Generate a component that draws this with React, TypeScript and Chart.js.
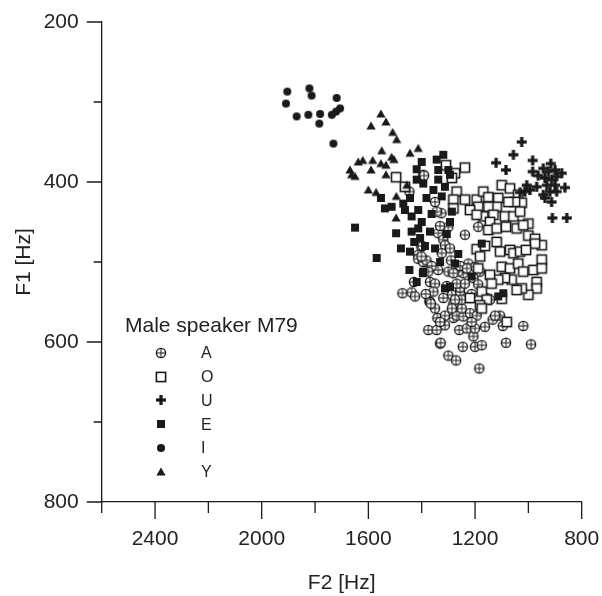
import { useEffect, useRef } from 'react';
import { Chart, registerables } from 'chart.js';

Chart.register(...registerables);

// ---- data: [F2, F1] in Hz ----
const vowelA: number[][] = [
  [1472, 539], [1438, 538], [1425, 543], [1429, 525], [1401, 481], [1413, 491], [1413, 496], [1394, 500],
  [1446, 412], [1394, 391], [1391, 392], [1350, 425], [1326, 439], [1344, 437],
  [1397, 480], [1382, 498], [1401, 493], [1338, 464], [1319, 472], [1313, 479], [1294, 483], [1325, 489],
  [1338, 510], [1300, 512], [1369, 525], [1350, 527], [1356, 537], [1371, 549], [1350, 558], [1341, 570],
  [1375, 585], [1344, 585], [1313, 579], [1331, 602], [1300, 617], [1271, 623], [1246, 606], [1259, 585],
  [1231, 583], [1206, 593], [1200, 606], [1175, 604], [1184, 633], [1084, 601], [990, 603], [1019, 580],
  [1096, 580], [1163, 581], [1134, 572], [1106, 567], [1200, 583], [1281, 570], [1269, 567], [1244, 568],
  [1219, 564], [1194, 567], [1213, 575], [1250, 558], [1281, 552], [1287, 541], [1256, 537], [1221, 545],
  [1256, 532], [1225, 502], [1244, 514], [1262, 512], [1281, 514], [1200, 506], [1181, 512], [1156, 545],
  [1144, 547], [1125, 567], [1238, 466], [1188, 456], [1300, 456], [1331, 455], [1369, 550], [1329, 601],
  [1256, 505], [1231, 508], [1206, 520], [1269, 527], [1238, 527], [1250, 547], [1275, 547], [1287, 558],
  [1313, 567], [1331, 575], [1366, 552], [1385, 540], [1306, 530], [1319, 545], [1363, 505], [1375, 512],
  [1290, 498], [1213, 540], [1188, 528],
];
const vowelO: number[][] = [
  [1496, 394], [1463, 406],
  [1238, 382], [1309, 379], [1275, 389], [1287, 395], [1269, 412], [1281, 422], [1238, 422], [1194, 422],
  [1169, 412], [1150, 419], [1100, 404], [1069, 408], [1038, 416], [1025, 426], [1050, 425], [1075, 425],
  [1113, 420], [1119, 431], [1150, 431], [1188, 431], [1219, 435], [1169, 443], [1194, 441], [1131, 441],
  [1088, 443], [1056, 443], [1031, 437], [1000, 452], [1144, 450], [1281, 433],
  [1150, 460], [1119, 458], [1084, 456], [1044, 458], [1019, 454], [1000, 467], [975, 471], [950, 479],
  [975, 477], [1194, 484], [1181, 493], [1163, 480], [1119, 475], [1106, 487], [1069, 485], [1056, 489],
  [1031, 487], [1009, 485], [1100, 506], [1069, 508], [1038, 502], [1019, 512], [981, 510], [950, 497],
  [950, 508], [969, 525], [969, 533], [1000, 541], [1025, 533], [1044, 535], [1063, 522], [1088, 520],
  [1113, 522], [1144, 516], [1175, 537], [1138, 527], [1100, 546], [1156, 547], [1181, 554], [1175, 558],
  [1081, 575], [1219, 545], [1188, 508],
];
const vowelU: number[][] = [
  [1025, 350], [1056, 366], [1121, 376], [1084, 385], [984, 373], [984, 387], [916, 377], [944, 383],
  [963, 392], [925, 387], [900, 385], [875, 389], [894, 393], [938, 395], [913, 397], [931, 404],
  [900, 404], [863, 407], [894, 412], [919, 412], [944, 416], [938, 420], [913, 425], [969, 406],
  [1006, 404], [1013, 412], [994, 410], [1031, 413], [856, 445], [910, 445],
];
const vowelE: number[][] = [
  [1419, 384], [1419, 397], [1553, 420], [1538, 433], [1513, 431], [1469, 427], [1463, 435], [1438, 443],
  [1444, 420], [1400, 450],
  [1650, 457], [1569, 495], [1496, 464], [1478, 483], [1444, 487], [1428, 475], [1438, 462], [1413, 458],
  [1446, 510], [1419, 525], [1396, 514],
  [1319, 366], [1344, 372], [1338, 385], [1300, 385], [1294, 391], [1338, 397], [1394, 402], [1313, 406],
  [1382, 420], [1287, 437], [1413, 435], [1294, 450],
  [1369, 462], [1350, 483], [1331, 500], [1275, 502], [1394, 512], [1313, 533], [1294, 531], [1213, 518],
  [1175, 477], [1113, 543], [1094, 539],
  [1356, 410], [1325, 418], [1363, 440], [1406, 470], [1388, 480], [1306, 465], [1263, 490], [1400, 375],
];
const vowelI: number[][] = [
  [1904, 287], [1909, 302], [1821, 283], [1813, 292], [1719, 295], [1869, 318], [1825, 316], [1781, 315],
  [1784, 327], [1737, 316], [1721, 312], [1706, 308], [1731, 352],
];
const vowelY: number[][] = [
  [1553, 315], [1534, 325], [1590, 330], [1509, 338], [1494, 347], [1550, 361], [1444, 364], [1413, 358],
  [1513, 369], [1504, 372], [1638, 375], [1621, 373], [1584, 373], [1553, 377], [1534, 379], [1669, 385],
  [1663, 391], [1650, 393], [1590, 385], [1534, 391], [1600, 410], [1571, 413], [1495, 418], [1496, 445],
  [1456, 404],
];

const vowelNames = ['A', 'O', 'U', 'E', 'I', 'Y'];
const vowelSeries = [vowelA, vowelO, vowelU, vowelE, vowelI, vowelY];
const legendTitle = 'Male speaker M79';

const xTickLabels = [2400, 2000, 1600, 1200, 800];
const yTickLabels = [200, 400, 600, 800];

const INK = '#1a1a1a';
const TEXT = '#222';
const FONT = "'Liberation Sans', Arial, Helvetica, sans-serif";

function makeMarker(kind: string): HTMLCanvasElement {
  const c = document.createElement('canvas');
  c.width = 14;
  c.height = 14;
  const g = c.getContext('2d')!;
  g.translate(7, 7);
  g.strokeStyle = INK;
  g.fillStyle = INK;
  if (kind === 'A') {
    const r = 4.6;
    g.beginPath();
    g.arc(0, 0, r, 0, Math.PI * 2);
    g.fillStyle = '#fff';
    g.fill();
    g.lineWidth = 1.4;
    g.stroke();
    g.beginPath();
    g.moveTo(-r, 0);
    g.lineTo(r, 0);
    g.moveTo(0, -r);
    g.lineTo(0, r);
    g.lineWidth = 1;
    g.stroke();
  } else if (kind === 'O') {
    g.fillStyle = '#fff';
    g.fillRect(-4.6, -4.6, 9.2, 9.2);
    g.lineWidth = 1.6;
    g.strokeRect(-4.6, -4.6, 9.2, 9.2);
  } else if (kind === 'U') {
    g.fillRect(-1.6, -5, 3.2, 10);
    g.fillRect(-5, -1.6, 10, 3.2);
  } else if (kind === 'E') {
    g.fillRect(-4, -4, 8, 8);
  } else if (kind === 'I') {
    g.beginPath();
    g.arc(0, 0, 4, 0, Math.PI * 2);
    g.fill();
  } else if (kind === 'Y') {
    g.beginPath();
    g.moveTo(0, -4.4);
    g.lineTo(4.6, 3.6);
    g.lineTo(-4.6, 3.6);
    g.closePath();
    g.fill();
  }
  return c;
}

function noScalePadding(s: any) {
  s.paddingTop = 0;
  s.paddingBottom = 0;
  s.paddingLeft = 0;
  s.paddingRight = 0;
}

export default function App() {
  const ref = useRef<HTMLCanvasElement | null>(null);

  useEffect(() => {
    document.body.style.margin = '0';
    const canvas = ref.current;
    if (!canvas) return;
    const markers = vowelNames.map((n) => makeMarker(n));

    const ticksPlugin = {
      id: 'axisTicks',
      afterDraw(chart: any) {
        const { ctx, chartArea } = chart;
        const xs = chart.scales.x;
        const ys = chart.scales.y;
        ctx.save();
        ctx.strokeStyle = INK;
        ctx.lineWidth = 1.3;
        ctx.beginPath();
        xs.ticks.forEach((t: any) => {
          const px = xs.getPixelForValue(t.value);
          const len = xTickLabels.includes(t.value) ? 17 : 11;
          ctx.moveTo(px, chartArea.bottom);
          ctx.lineTo(px, chartArea.bottom + len);
        });
        ys.ticks.forEach((t: any) => {
          const py = ys.getPixelForValue(t.value);
          const len = yTickLabels.includes(t.value) ? 15 : 8;
          ctx.moveTo(chartArea.left, py);
          ctx.lineTo(chartArea.left - len, py);
        });
        ctx.stroke();
        ctx.restore();
      },
    };

    const legendPlugin = {
      id: 'insetLegend',
      afterDraw(chart: any) {
        const { ctx } = chart;
        ctx.save();
        ctx.fillStyle = TEXT;
        ctx.font = `21px ${FONT}`;
        ctx.textAlign = 'left';
        ctx.textBaseline = 'alphabetic';
        ctx.fillText(legendTitle, 125, 332);
        ctx.font = `16px ${FONT}`;
        ctx.textBaseline = 'middle';
        vowelNames.forEach((name, i) => {
          const cy = 353 + i * 23.7;
          const m = markers[i];
          ctx.drawImage(m, Math.round(161 - m.width / 2), Math.round(cy - m.height / 2));
          ctx.fillText(name, 201, cy + 1);
        });
        ctx.restore();
      },
    };

    const chart = new Chart(canvas, {
      type: 'scatter',
      data: {
        datasets: vowelSeries.map((pts, i) => ({
          label: vowelNames[i],
          data: pts.map(([f2, f1]) => ({ x: f2, y: f1 })),
          pointStyle: markers[i] as any,
          pointRadius: 5,
          pointHoverRadius: 5,
          showLine: false,
          order: vowelNames.length - i,
        })),
      },
      options: {
        responsive: false,
        animation: false,
        events: [],
        layout: { padding: { top: 22, right: 20.3, bottom: 0, left: 0 } },
        plugins: {
          legend: { display: false },
          tooltip: { enabled: false },
        },
        scales: {
          x: {
            type: 'linear',
            min: 800,
            max: 2600,
            reverse: true,
            grid: { display: false, drawTicks: false },
            border: { display: true, color: INK, width: 1.3 },
            ticks: {
              stepSize: 200,
              autoSkip: false,
              maxRotation: 0,
              padding: 25,
              color: TEXT,
              font: { family: FONT, size: 21 },
              callback: (v: any) => (xTickLabels.includes(Number(v)) ? String(v) : ''),
            },
            title: {
              display: true,
              text: 'F2 [Hz]',
              color: TEXT,
              font: { family: FONT, size: 21 },
              padding: { top: 0, bottom: 0 },
            },
            afterFit: (s: any) => {
              s.height = 94;
              noScalePadding(s);
            },
          },
          y: {
            type: 'linear',
            min: 200,
            max: 800,
            reverse: true,
            grid: { display: false, drawTicks: false },
            border: { display: true, color: INK, width: 1.3 },
            ticks: {
              stepSize: 100,
              autoSkip: false,
              padding: 23,
              color: TEXT,
              font: { family: FONT, size: 21 },
              callback: (v: any) => (yTickLabels.includes(Number(v)) ? String(v) : ''),
            },
            title: {
              display: true,
              text: 'F1 [Hz]',
              color: TEXT,
              font: { family: FONT, size: 21 },
              padding: { top: 12, bottom: 0 },
            },
            afterFit: (s: any) => {
              s.width = 101.7;
              noScalePadding(s);
            },
          },
        },
      },
      plugins: [ticksPlugin, legendPlugin],
    });

    return () => chart.destroy();
  }, []);

  return (
    <div style={{ width: 602, height: 596 }}>
      <canvas ref={ref} width={602} height={596} style={{ display: 'block' }} />
    </div>
  );
}
